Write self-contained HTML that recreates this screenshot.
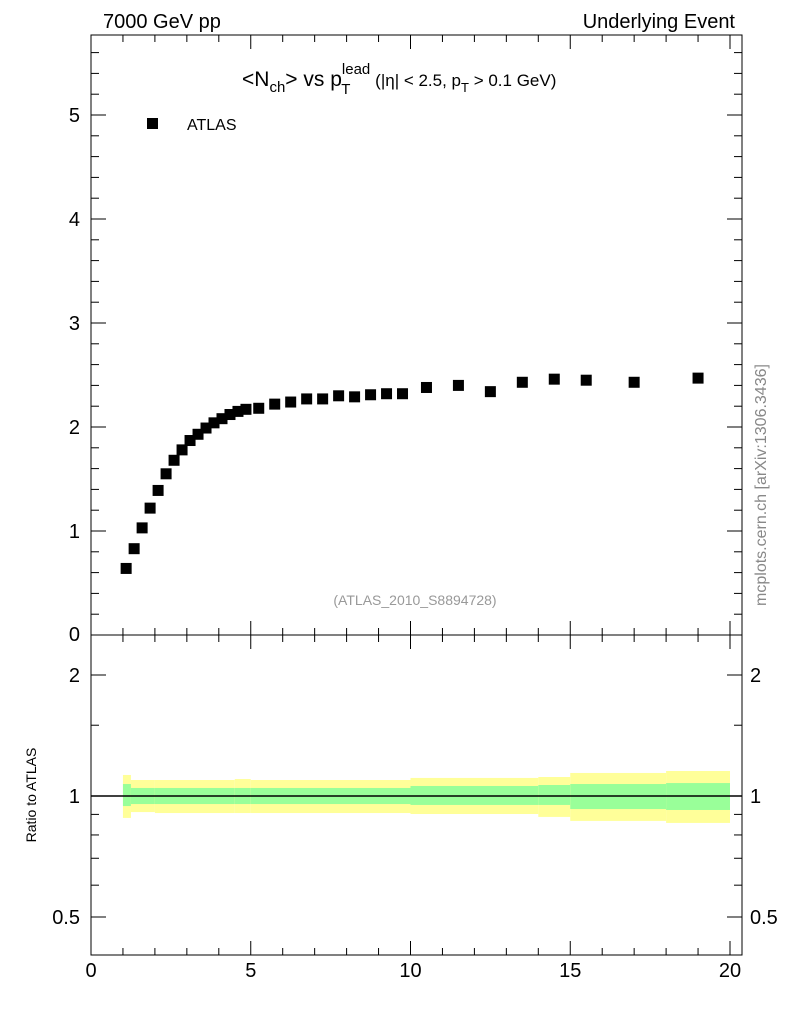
<!DOCTYPE html>
<html><head><meta charset="utf-8"><style>
body{margin:0;background:#fff}
svg text{font-family:"Liberation Sans",sans-serif}
</style></head><body>
<svg id="c" width="786" height="1024" xmlns="http://www.w3.org/2000/svg">
<text x="103" y="28" font-size="20">7000 GeV pp</text>
<text x="735" y="28" font-size="20" text-anchor="end">Underlying Event</text>
<text x="242" y="86" font-size="21">&lt;N<tspan font-size="15" dy="6">ch</tspan><tspan dy="-6">&gt; vs p</tspan><tspan font-size="15" dy="-12">lead</tspan><tspan font-size="15" dx="-29" dy="20">T</tspan><tspan font-size="17" dx="20" dy="-8"> (|η| &lt; 2.5, p</tspan><tspan font-size="13" dy="6">T</tspan><tspan font-size="17" dy="-6"> &gt; 0.1 GeV)</tspan></text>
<rect x="147" y="118" width="11" height="11" fill="#000"/>
<text x="187" y="130" font-size="16">ATLAS</text>
<text x="415" y="605" font-size="14" fill="#999" text-anchor="middle">(ATLAS_2010_S8894728)</text>
<text transform="translate(766,485) rotate(-90)" font-size="16" fill="#888" text-anchor="middle">mcplots.cern.ch [arXiv:1306.3436]</text>
<text transform="translate(36,795) rotate(-90)" font-size="14" text-anchor="middle">Ratio to ATLAS</text>
<g id="bands"></g><g id="marks"></g><g id="axes"></g>
<rect x="91" y="35" width="651" height="600" fill="none" stroke="#000"/>
<rect x="91" y="635" width="651" height="320" fill="none" stroke="#000"/>
</svg>
<script>
const xs=[1.1,1.35,1.6,1.85,2.1,2.35,2.6,2.85,3.1,3.35,3.6,3.85,4.1,4.35,4.6,4.85,5.25,5.75,6.25,6.75,7.25,7.75,8.25,8.75,9.25,9.75,10.5,11.5,12.5,13.5,14.5,15.5,17,19];
const ys=[0.64,0.83,1.03,1.22,1.39,1.55,1.68,1.78,1.87,1.93,1.99,2.04,2.08,2.12,2.15,2.17,2.18,2.22,2.24,2.27,2.27,2.30,2.29,2.31,2.32,2.32,2.38,2.40,2.34,2.43,2.46,2.45,2.43,2.47];
const binEdges=[1,1.25,2,4.5,5,10,14,15,18,20];
const yellowUp=[1.128,1.096,1.096,1.102,1.096,1.109,1.115,1.141,1.154];
const yellowDn=[0.882,0.912,0.907,0.907,0.907,0.902,0.887,0.867,0.857];
const greenUp=[1.071,1.047,1.047,1.047,1.047,1.059,1.065,1.071,1.077];
const greenDn=[0.944,0.955,0.955,0.955,0.955,0.950,0.950,0.928,0.923];
const xTicks=[0,5,10,15,20];
const yTicks=[0,1,2,3,4,5];
const rTicks=[0.5,1,2];
const rMinor=[0.6,0.7,0.8,0.9,1.5];
const NS="http://www.w3.org/2000/svg";
const X=v=>91+v*31.95, Y=v=>635-v*104, R=v=>796-Math.log2(v)*121;
function mk(p,t,a){const e=document.createElementNS(NS,t);for(const k in a)e.setAttribute(k,a[k]);document.getElementById(p).appendChild(e);return e;}
for(let i=0;i<yellowUp.length;i++){
 const x0=X(binEdges[i]),w=X(binEdges[i+1])-x0;
 const yb=mk('bands','rect',{x:x0,y:R(yellowUp[i]),width:w,height:R(yellowDn[i])-R(yellowUp[i]),fill:'#ffff99'});
 
 
 const gb=mk('bands','rect',{x:x0,y:R(greenUp[i]),width:w,height:R(greenDn[i])-R(greenUp[i]),fill:'#99ff99'});
 
 
}
const ln=mk('bands','line',{x1:91,x2:742,y1:R(1),y2:R(1),stroke:'#000','stroke-width':1.5});


xs.forEach((x,i)=>{
 const m=mk('marks','rect',{x:X(x)-5.5,y:Y(ys[i])-5.5,width:11,height:11,fill:'#000'});
 
 
});
function tk(x1,y1,x2,y2){mk('axes','line',{x1,y1,x2,y2,stroke:'#000'});}
for(let v=0;v<=20;v++){const x=X(v),L=v%5?7:14;
 tk(x,635,x,635-L);tk(x,35,x,35+L);tk(x,955,x,955-L);tk(x,635,x,635+L);}
for(let v=0;v<=5.7;v+=0.2){const y=Y(v),L=Math.abs(v-Math.round(v))<0.01?15:8;tk(91,y,91+L,y);tk(742,y,742-L,y);}
rTicks.forEach(v=>{const y=R(v);tk(91,y,106,y);tk(742,y,727,y);
 const a=mk('axes','text',{x:80,y:y+7,'font-size':20,'text-anchor':'end'});a.textContent=v;
 
 
 const b=mk('axes','text',{x:750,y:y+7,'font-size':20});b.textContent=v;
 
 });
rMinor.forEach(v=>{const y=R(v);tk(91,y,99,y);tk(742,y,734,y);});
yTicks.forEach(v=>{const t=mk('axes','text',{x:80,y:Math.min(Y(v)+7,641),'font-size':20,'text-anchor':'end'});t.textContent=v;
 
 });
xTicks.forEach(v=>{const t=mk('axes','text',{x:X(v),y:977,'font-size':20,'text-anchor':'middle'});t.textContent=v;
 
 });
</script>
</body></html>
